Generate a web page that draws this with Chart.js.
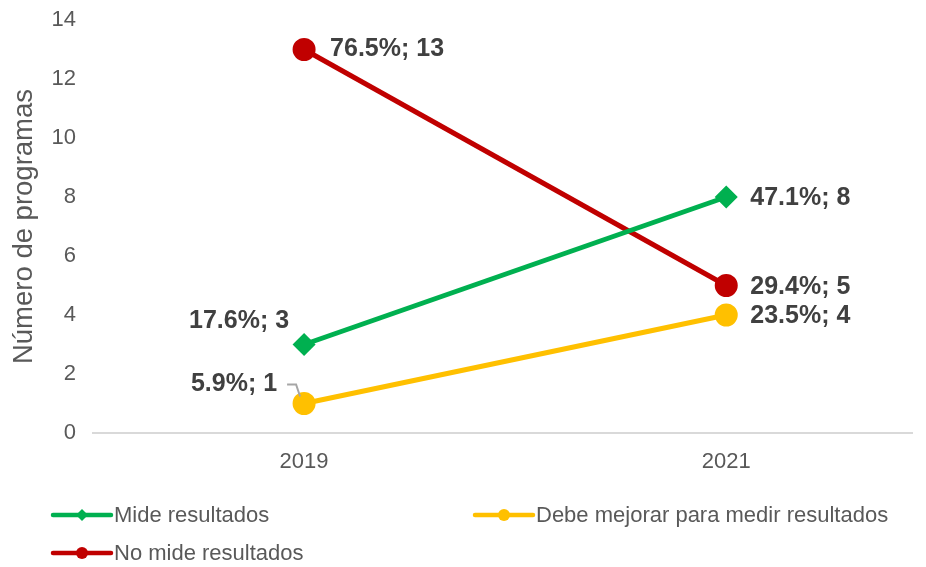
<!DOCTYPE html>
<html>
<head>
<meta charset="utf-8">
<script src="https://cdn.jsdelivr.net/npm/chart.js@4.4.1/dist/chart.umd.min.js"></script>
<style>
  html, body { margin: 0; padding: 0; background: #fff; }
  #wrap { width: 926px; height: 567px; position: relative; }
</style>
</head>
<body>
<div id="wrap"><canvas id="grafico"></canvas></div>
<script>
// --- datos ---
const years = [2019, 2021];
const seriesNames = ['Mide resultados', 'Debe mejorar para medir resultados', 'No mide resultados'];
const mideValues = [3, 8];
const debeValues = [1, 4];
const noMideValues = [13, 5];
const mideLabels = ['17.6%; 3', '47.1%; 8'];
const debeLabels = ['5.9%; 1', '23.5%; 4'];
const noMideLabels = ['76.5%; 13', '29.4%; 5'];
const yTicks = [0, 2, 4, 6, 8, 10, 12, 14];

const FONT = '"Liberation Sans", Arial, sans-serif';
const GRAY = '#595959';

// posicion de las etiquetas respecto al punto (dx, dy, alineacion)
const labelPos = [
  [[-15, -23, 'right'], [24, 1, 'left']],
  [[-27, -19, 'right', true], [24, 1, 'left']],
  [[26, 0, 'left'], [24, 2, 'left']]
];

function toPoints(vals) {
  return vals.map((v, i) => ({ x: years[i], y: v }));
}

// etiquetas de datos
const dataLabels = {
  id: 'dataLabels',
  afterDatasetsDraw(chart) {
    const ctx = chart.ctx;
    ctx.save();
    ctx.font = 'bold 25px ' + FONT;
    ctx.fillStyle = '#404040';
    ctx.textBaseline = 'middle';
    chart.data.datasets.forEach((ds, di) => {
      chart.getDatasetMeta(di).data.forEach((pt, i) => {
        const [dx, dy, align, leader] = labelPos[di][i];
        const tx = pt.x + dx, ty = pt.y + dy;
        ctx.textAlign = align;
        ctx.fillText(ds.pointLabels[i], tx, ty);
        if (leader) {
          // linea guia
          ctx.strokeStyle = '#a6a6a6';
          ctx.lineWidth = 2;
          ctx.beginPath();
          ctx.moveTo(tx + 10, ty);
          ctx.lineTo(tx + 19, ty);
          ctx.lineTo(tx + 23, ty + 12);
          ctx.stroke();
        }
      });
    });
    ctx.restore();
  }
};

// leyenda abajo, en dos columnas
const bottomLegend = {
  id: 'bottomLegend',
  afterDraw(chart) {
    const ctx = chart.ctx;
    const spots = [[53, 515], [475, 515], [53, 553]];
    ctx.save();
    ctx.font = '22px ' + FONT;
    ctx.textBaseline = 'middle';
    ctx.textAlign = 'left';
    chart.data.datasets.forEach((ds, i) => {
      const [x, y] = spots[i];
      ctx.strokeStyle = ds.borderColor;
      ctx.lineWidth = 4.5;
      ctx.lineCap = 'round';
      ctx.beginPath();
      ctx.moveTo(x, y);
      ctx.lineTo(x + 58, y);
      ctx.stroke();
      ctx.fillStyle = ds.borderColor;
      ctx.beginPath();
      if (ds.pointStyle === 'rectRot') {
        ctx.moveTo(x + 29, y - 6); ctx.lineTo(x + 35, y);
        ctx.lineTo(x + 29, y + 6); ctx.lineTo(x + 23, y);
        ctx.closePath();
      } else {
        ctx.arc(x + 29, y, 6, 0, Math.PI * 2);
      }
      ctx.fill();
      ctx.fillStyle = GRAY;
      ctx.fillText(ds.label, x + 61, y + 1);
    });
    ctx.restore();
  }
};

new Chart(document.getElementById('grafico'), {
  type: 'line',
  data: {
    datasets: [
      {
        label: seriesNames[0], data: toPoints(mideValues), pointLabels: mideLabels,
        borderColor: '#00B050', backgroundColor: '#00B050',
        pointStyle: 'rectRot', pointRadius: 8, borderWidth: 5
      },
      {
        label: seriesNames[1], data: toPoints(debeValues), pointLabels: debeLabels,
        borderColor: '#FFC000', backgroundColor: '#FFC000',
        pointStyle: 'circle', pointRadius: 9, borderWidth: 5
      },
      {
        label: seriesNames[2], data: toPoints(noMideValues), pointLabels: noMideLabels,
        borderColor: '#C00000', backgroundColor: '#C00000',
        pointStyle: 'circle', pointRadius: 9, borderWidth: 5
      }
    ]
  },
  options: {
    responsive: true,
    maintainAspectRatio: false,
    animation: false,
    layout: { padding: { top: 20, right: 8, bottom: 0, left: 0 } },
    plugins: { legend: { display: false }, tooltip: { enabled: false } },
    scales: {
      x: {
        type: 'linear', min: 2018, max: 2021.88,
        afterBuildTicks: (s) => { s.ticks = years.map(v => ({ value: v })); },
        afterFit: (s) => { s.height = 134; },
        grid: { display: false, drawTicks: false },
        border: { display: true, color: '#d9d9d9', width: 2 },
        ticks: { color: GRAY, font: { family: FONT, size: 22 }, padding: 16, callback: (v) => String(v) }
      },
      y: {
        min: 0, max: 14,
        afterBuildTicks: (s) => { s.ticks = yTicks.map(v => ({ value: v })); },
        afterFit: (s) => { s.width = 93; s.paddingTop = 0; s.paddingBottom = 0; },
        grid: { display: false, drawTicks: false },
        border: { display: false },
        ticks: { color: GRAY, font: { family: FONT, size: 22 }, padding: 17 },
        title: { display: true, text: 'Número de programas', color: GRAY, font: { family: FONT, size: 27.5 }, padding: { top: 8, bottom: 0 } }
      }
    }
  },
  plugins: [dataLabels, bottomLegend]
});
</script>
</body>
</html>
